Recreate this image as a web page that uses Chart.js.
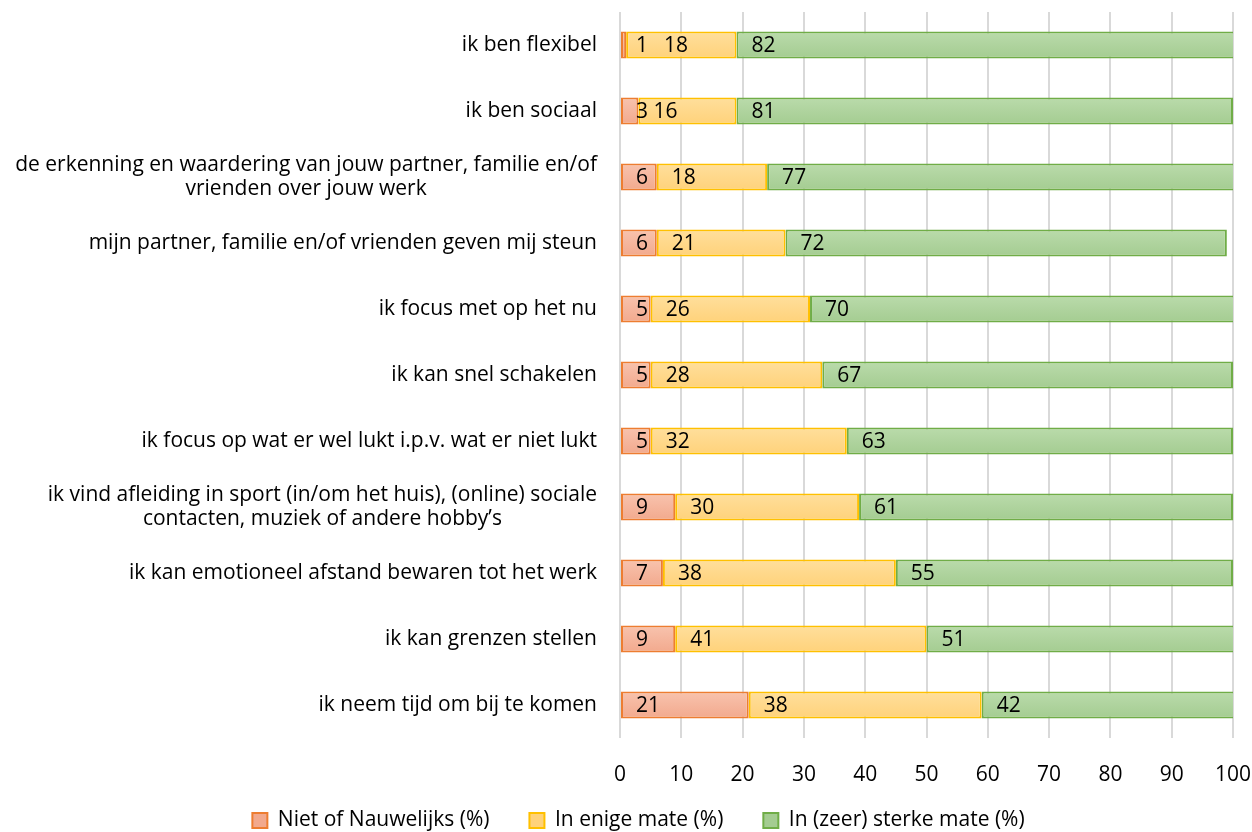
<!DOCTYPE html>
<html>
<head>
<meta charset="utf-8">
<script src="https://cdn.jsdelivr.net/npm/chart.js@4.4.0/dist/chart.umd.min.js"></script>
<style>
  html, body { margin: 0; padding: 0; background: #fff; }
  #wrap { width: 1252px; height: 832px; }
</style>
</head>
<body>
<div id="wrap"><canvas id="chart"></canvas></div>
<script>
// categorieën (meerregelige labels als array)
const categories = [
  ['ik ben flexibel'],
  ['ik ben sociaal'],
  ['de erkenning en waardering van jouw partner, familie en/of', 'vrienden over jouw werk'],
  ['mijn partner, familie en/of vrienden geven mij steun'],
  ['ik focus met op het nu'],
  ['ik kan snel schakelen'],
  ['ik focus op wat er wel lukt i.p.v. wat er niet lukt'],
  ['ik vind afleiding in sport (in/om het huis), (online) sociale', 'contacten, muziek of andere hobby\u2019s'],
  ['ik kan emotioneel afstand bewaren tot het werk'],
  ['ik kan grenzen stellen'],
  ['ik neem tijd om bij te komen']
];

const nietNauwelijks = [1, 3, 6, 6, 5, 5, 5, 9, 7, 9, 21];
const enigeMate = [18, 16, 18, 21, 26, 28, 32, 30, 38, 41, 38];
const sterkeMate = [82, 81, 77, 72, 70, 67, 63, 61, 55, 51, 42];

const xTicks = [0, 10, 20, 30, 40, 50, 60, 70, 80, 90, 100];

const FONT = '"Open Sans", Lato, sans-serif';
const SIZE = 21;
const BAR_PCT = 0.41;

// verticale kleurverloop per balk (lichter boven, donkerder onder)
function barFill(light, dark, flat) {
  return (context) => {
    const chart = context.chart;
    const area = chart.chartArea;
    if (!area || context.dataIndex === undefined) return flat;
    const band = (area.bottom - area.top) / categories.length;
    const h = band * BAR_PCT;
    const yc = chart.scales.y.getPixelForValue(context.dataIndex);
    const g = chart.ctx.createLinearGradient(0, yc - h / 2, 0, yc + h / 2);
    g.addColorStop(0, light);
    g.addColorStop(1, dark);
    return g;
  };
}

// aslabels zelf tekenen: y-blok rechts uitgelijnd met gecentreerde regels, x onder het raster
const axisLabels = {
  id: 'axisLabels',
  afterDraw(chart) {
    const { ctx, scales, chartArea } = chart;
    const y = scales.y;
    const x = scales.x;
    const right = chartArea.left - 23;
    const lineH = 24;
    ctx.save();
    ctx.font = SIZE + 'px ' + FONT;
    ctx.fillStyle = '#000';
    ctx.textBaseline = 'middle';
    ctx.textAlign = 'center';
    categories.forEach((lines, i) => {
      const cy = y.getPixelForTick(i);
      const w = Math.max(...lines.map(l => ctx.measureText(l).width));
      const cx = right - w / 2;
      const top = cy - (lines.length - 1) * lineH / 2;
      lines.forEach((l, j) => ctx.fillText(l, cx, top + j * lineH));
    });
    xTicks.forEach(v => {
      ctx.fillText(String(v), x.getPixelForValue(v), chartArea.bottom + 37);
    });
    ctx.restore();
  }
};

// waarden in de balk, aan de basis
const barValues = {
  id: 'barValues',
  afterDatasetsDraw(chart) {
    const { ctx } = chart;
    ctx.save();
    ctx.font = SIZE + 'px ' + FONT;
    ctx.fillStyle = '#000';
    ctx.textBaseline = 'middle';
    ctx.textAlign = 'left';
    const prevEnd = [];
    chart.data.datasets.forEach((ds, di) => {
      const meta = chart.getDatasetMeta(di);
      meta.data.forEach((bar, i) => {
        const text = String(ds.data[i]);
        let x = bar.base + 15;
        if (prevEnd[i] !== undefined && x < prevEnd[i] + 4) x = prevEnd[i] + 16;
        ctx.fillText(text, x, bar.y + 1);
        prevEnd[i] = x + ctx.measureText(text).width;
      });
    });
    ctx.restore();
  }
};

const ctx = document.getElementById('chart').getContext('2d');

new Chart(ctx, {
  type: 'bar',
  data: {
    labels: categories,
    datasets: [
      {
        label: 'Niet of Nauwelijks (%)',
        data: nietNauwelijks,
        backgroundColor: barFill('#f8c3ae', '#f2a98d', '#f5b49d'),
        borderColor: '#ed7d31'
      },
      {
        label: 'In enige mate (%)',
        data: enigeMate,
        backgroundColor: barFill('#ffdf9c', '#ffd27a', '#ffd98b'),
        borderColor: '#ffc000'
      },
      {
        label: 'In (zeer) sterke mate (%)',
        data: sterkeMate,
        backgroundColor: barFill('#badbab', '#a4cc91', '#b0d49f'),
        borderColor: '#70ad47'
      }
    ]
  },
  options: {
    indexAxis: 'y',
    responsive: true,
    maintainAspectRatio: false,
    animation: false,
    layout: { padding: { top: 12, right: 0, left: 25, bottom: -9 } },
    datasets: {
      bar: {
        borderWidth: 2,
        borderSkipped: false,
        barPercentage: BAR_PCT,
        categoryPercentage: 1,
        clip: 0
      }
    },
    scales: {
      x: {
        stacked: true,
        min: 0,
        max: 100,
        afterBuildTicks(scale) {
          scale.ticks = xTicks.map(v => ({ value: v }));
        },
        afterFit(scale) {
          scale.height = 32;
          scale.paddingLeft = 0;
          scale.paddingRight = 19;
        },
        grid: { color: '#d9d9d9', lineWidth: 2, drawTicks: false },
        border: { display: false },
        ticks: { display: false }
      },
      y: {
        stacked: true,
        afterFit(scale) { scale.width = 595; },
        grid: { display: false },
        border: { display: false },
        ticks: { display: false }
      }
    },
    plugins: {
      tooltip: { enabled: false },
      legend: {
        position: 'bottom',
        labels: {
          boxWidth: 15,
          boxHeight: 15,
          padding: 40,
          color: '#000',
          font: { family: FONT, size: SIZE }
        }
      }
    }
  },
  plugins: [axisLabels, barValues]
});
</script>
</body>
</html>
